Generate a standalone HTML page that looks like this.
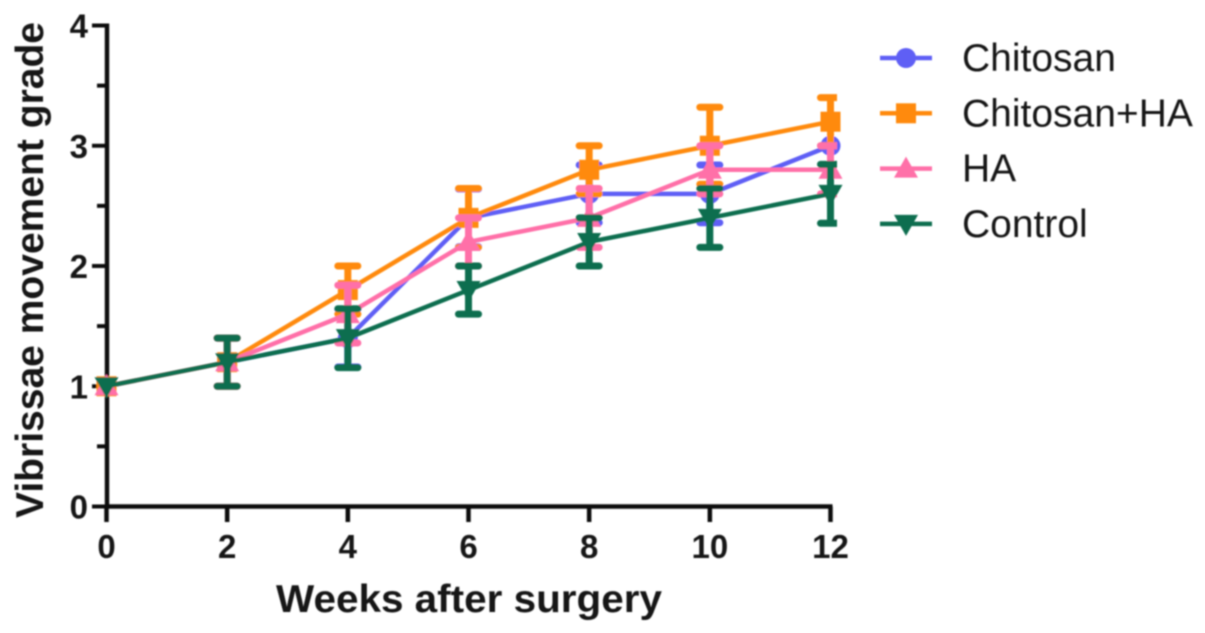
<!DOCTYPE html>
<html>
<head>
<meta charset="utf-8">
<style>
html,body{margin:0;padding:0;background:#fff;width:1205px;height:633px;overflow:hidden}
svg{display:block}
text{font-family:"Liberation Sans",sans-serif;fill:#151515}
.tick{font-weight:bold;font-size:33px}
.title{font-weight:bold;font-size:39px}
.leg{font-size:39px}
</style>
</head>
<body>
<svg id="chart" width="1205" height="633" viewBox="0 0 1205 633" xmlns="http://www.w3.org/2000/svg">
<defs>
<filter id="soft" x="-5%" y="-5%" width="110%" height="110%"><feGaussianBlur stdDeviation="0.8"/></filter>
<clipPath id="cap-clip"><rect x="0" y="0" width="837" height="633"/></clipPath>
</defs>
<g id="root" filter="url(#soft)"></g>
</svg>
<script>
const weeks = [0, 2, 4, 6, 8, 10, 12];
const xTicks = [0, 2, 4, 6, 8, 10, 12];
const yMajorTicks = [0, 1, 2, 3, 4];
const yMinorTicks = [0.5, 1.5, 2.5, 3.5];
const seriesNames = ['Chitosan', 'Chitosan+HA', 'HA', 'Control'];
const chitosanValues = [1, 1.2, 1.4, 2.4, 2.6, 2.6, 3.0];
const chitosanErrors = [0, 0.2, 0.24, 0.24, 0.24, 0.24, 0];
const chitosanHaValues = [1, 1.2, 1.8, 2.4, 2.8, 3.0, 3.2];
const chitosanHaErrors = [0, 0.2, 0.2, 0.245, 0.2, 0.32, 0.2];
const haValues = [1, 1.2, 1.6, 2.2, 2.4, 2.8, 2.8];
const haErrors = [0, 0.2, 0.24, 0.2, 0.245, 0.2, 0.2];
const controlValues = [1, 1.2, 1.4, 1.8, 2.2, 2.4, 2.6];
const controlErrors = [0, 0.2, 0.245, 0.2, 0.2, 0.245, 0.245];
const seriesValues = [chitosanValues, chitosanHaValues, haValues, controlValues];
const seriesErrors = [chitosanErrors, chitosanHaErrors, haErrors, controlErrors];
const seriesColors = ['#5f5ff5', '#ff8a0d', '#ff6fa8', '#0b6e4f'];
const seriesShapes = ['circle', 'square', 'triangle', 'invtriangle'];

const NS = 'http://www.w3.org/2000/svg';
const root = document.getElementById('root');
const xPos = v => 106.5 + (v / 12) * 724;
const yPos = v => 506.5 - (v / 4) * 481;

function make(tag, attrs, parent) {
  const el = document.createElementNS(NS, tag);
  for (const k in attrs) el.setAttribute(k, attrs[k]);
  (parent || root).appendChild(el);
  return el;
}
function line(x1, y1, x2, y2, color, w, parent) {
  return make('line', {x1, y1, x2, y2, stroke: color, 'stroke-width': w}, parent);
}
function marker(shape, x, y, color, parent) {
  if (shape === 'circle') return make('circle', {cx: x, cy: y, r: 10, fill: color}, parent);
  if (shape === 'square') return make('rect', {x: x - 10, y: y - 10, width: 20, height: 20, fill: color}, parent);
  if (shape === 'triangle') return make('polygon', {points: `${x},${y - 12} ${x + 12},${y + 9} ${x - 12},${y + 9}`, fill: color}, parent);
  return make('polygon', {points: `${x},${y + 12} ${x + 12},${y - 9} ${x - 12},${y - 9}`, fill: color}, parent);
}

const axes = make('g', {});


const yAxis = line(107, yPos(4) - 2, 107, yPos(0) + 2, '#111', 4.5, axes);


const xAxis = line(105, yPos(0), xPos(12) + 2, yPos(0), '#111', 4.5, axes);



yMajorTicks.forEach(v => {
  const t = line(92, yPos(v), 107, yPos(v), '#111', 4, axes);
  
  
  const l = make('text', {x: 88, y: yPos(v) + 12, 'text-anchor': 'end', class: 'tick'}, axes);
  l.textContent = v;
  
  
});
yMinorTicks.forEach(v => {
  const t = line(97, yPos(v), 107, yPos(v), '#111', 4, axes);
  
  
});
xTicks.forEach(v => {
  const t = line(xPos(v), yPos(0), xPos(v), 522, '#111', 4.5, axes);
  
  
  const l = make('text', {x: xPos(v), y: 558, 'text-anchor': 'middle', class: 'tick'}, axes);
  l.textContent = v;
  
  
});

const xTitle = make('text', {x: 469, y: 612, 'text-anchor': 'middle', class: 'title', textLength: 386, lengthAdjust: 'spacingAndGlyphs'}, axes);
xTitle.textContent = 'Weeks after surgery';


const yTitle = make('text', {x: 0, y: 0, 'text-anchor': 'middle', class: 'title', transform: 'translate(43,270) rotate(-90)', textLength: 496, lengthAdjust: 'spacingAndGlyphs'}, axes);
yTitle.textContent = 'Vibrissae movement grade';



const plot = make('g', {});



seriesNames.forEach((name, s) => {
  const color = seriesColors[s];
  const slug = name.toLowerCase().replace('+', '-');
  const g = make('g', {}, plot);
  
  
  const pts = weeks.map((w, i) => xPos(w) + ',' + yPos(seriesValues[s][i])).join(' ');
  const pl = make('polyline', {points: pts, fill: 'none', stroke: color, 'stroke-width': 4.5, 'stroke-linejoin': 'round'}, g);
  
  
  weeks.forEach((w, i) => {
    const x = xPos(w), v = seriesValues[s][i], e = seriesErrors[s][i];
    if (e > 0) {
      const eb = make('g', {'clip-path': 'url(#cap-clip)'}, g);
      
      
      line(x, yPos(v - e), x, yPos(v + e), color, 7, eb);
      line(x - 10, yPos(v + e), x + 10, yPos(v + e), color, 7, eb).setAttribute('stroke-linecap', 'round');
      line(x - 10, yPos(v - e), x + 10, yPos(v - e), color, 7, eb).setAttribute('stroke-linecap', 'round');
    }
    const m = marker(seriesShapes[s], x, yPos(v), color, g);
    
    
  });
});

const legend = make('g', {});


seriesNames.forEach((name, s) => {
  const rowY = 58 + s * 55.3;
  const g = make('g', {}, legend);
  
  
  line(880, rowY, 932, rowY, seriesColors[s], 4.5, g);
  marker(seriesShapes[s], 906, rowY, seriesColors[s], g);
  const t = make('text', {x: 962, y: rowY + 13, class: 'leg'}, g);
  t.textContent = name;
});
</script>
</body>
</html>
